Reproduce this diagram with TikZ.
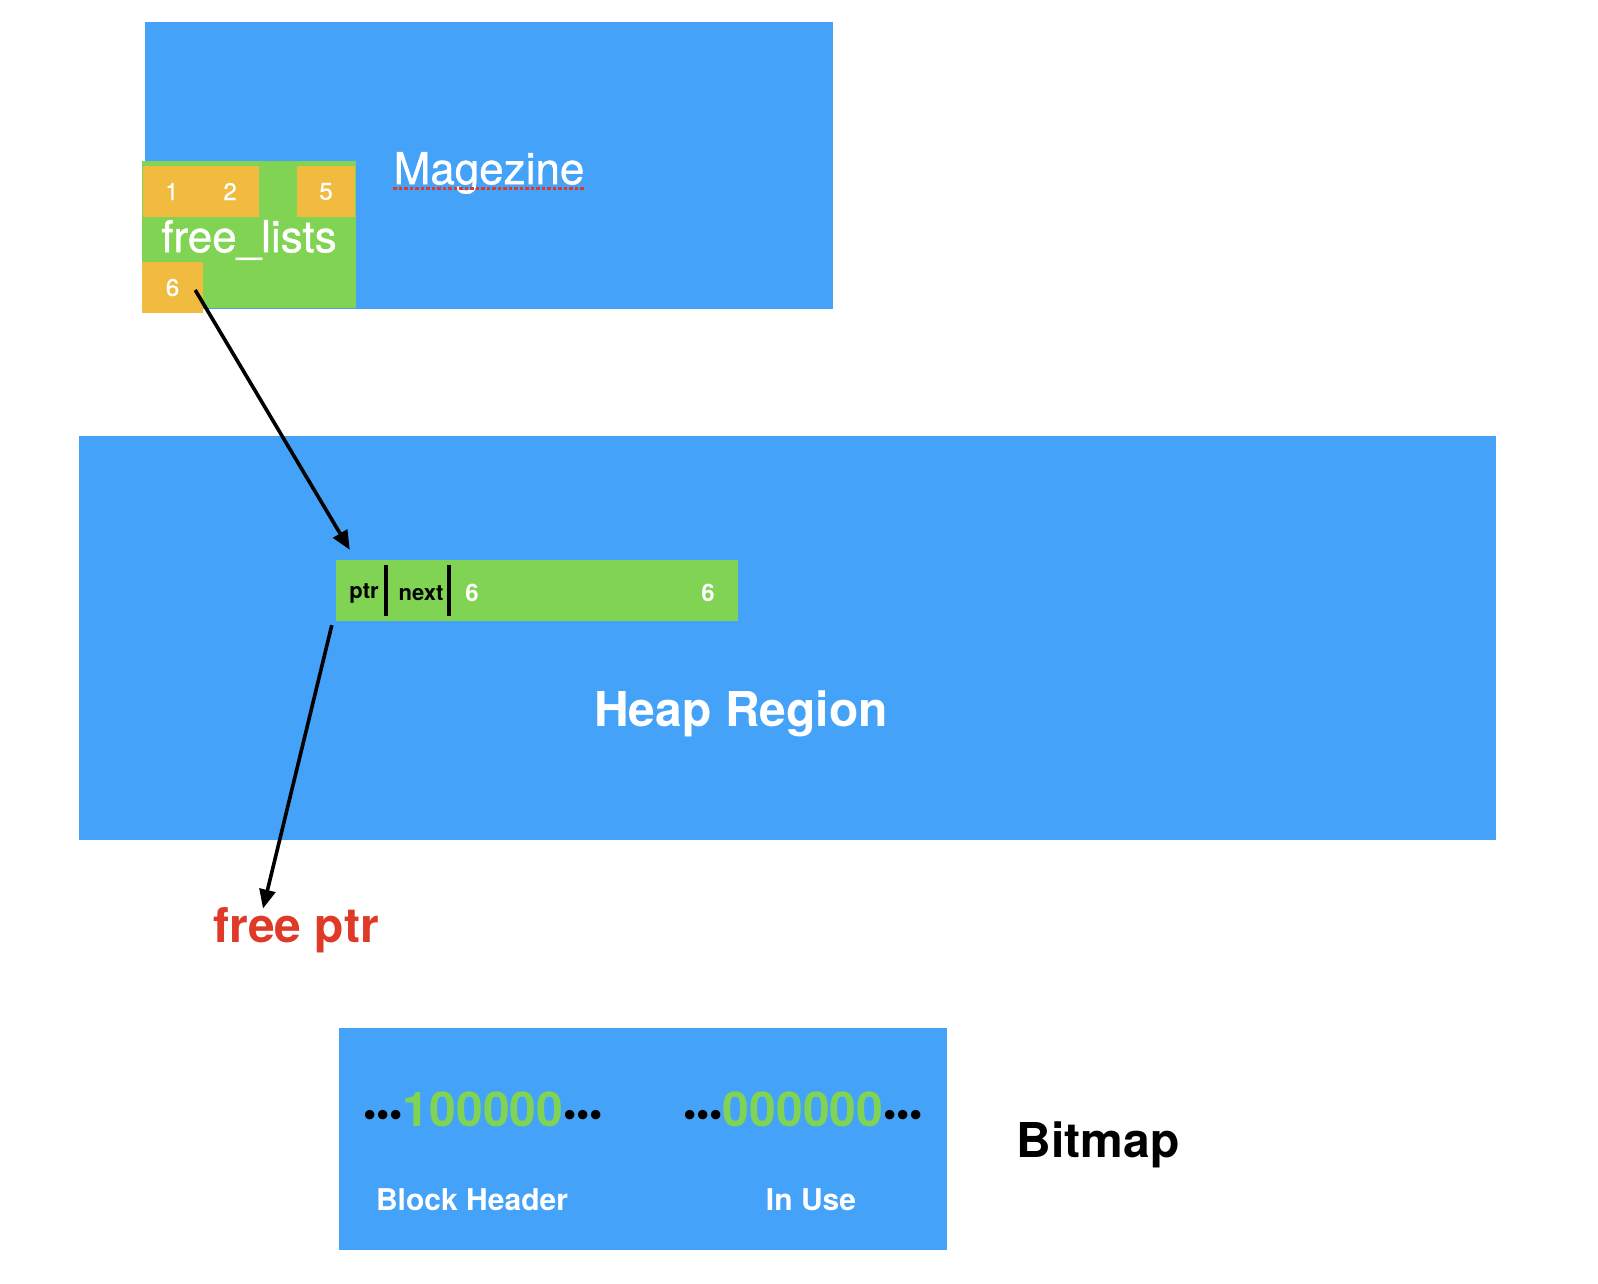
\documentclass[tikz,border=0pt]{standalone}
\usepackage{fontspec}
\setmainfont{TeX Gyre Heros}
\newfontfamily\medfont[FakeBold=0.8]{TeX Gyre Heros}
\usepackage{xcolor}
\usetikzlibrary{arrows.meta}
\definecolor{kblue}{HTML}{44A2F8}
\definecolor{kgreen}{HTML}{81D453}
\definecolor{korange}{HTML}{F0BB3F}
\definecolor{kred}{HTML}{DE3A27}
\newcommand{\bmdots}{{\color{black}\fontsize{38}{38}\selectfont\textbullet\textbullet\textbullet}}
\tikzset{
  region/.style={rectangle, fill=kblue, inner sep=0pt},
  gbox/.style={rectangle, fill=kgreen, inner sep=0pt},
  obox/.style={rectangle, fill=korange, inner sep=0pt, text=white, font=\fontsize{24}{24}\medfont},
  wlbl/.style={text=white, inner sep=0pt},
  blbl/.style={text=black, inner sep=0pt, font=\fontsize{22}{22}\selectfont\bfseries},
  nlbl/.style={text=white, inner sep=0pt, font=\fontsize{24}{24}\selectfont\bfseries},
  bits/.style={inner sep=0pt, text=kgreen, font=\fontsize{48}{48}\selectfont\bfseries},
  ptrarr/.style={draw=black, line width=3.6pt, -{Triangle[length=19pt,width=16pt]}},
  divider/.style={draw=black, line width=3.5pt},
  big/.style={inner sep=0pt, font=\fontsize{48}{48}\selectfont\bfseries}
}
\begin{document}
\begin{tikzpicture}[x=1pt, y=-1pt]
  \useasboundingbox (0,0) rectangle (1598,1284);
  % magazine
  \node[region, minimum width=688pt, minimum height=287pt] (mag) at (489,165.5) {};
  \node[wlbl, font=\fontsize{44}{44}\medfont] (magt) at (489,173) {Magezine};
  \draw[kred, line width=3pt, dash pattern=on 3.5pt off 2pt]
    ([yshift=-4pt]magt.base west) -- ([yshift=-4pt]magt.base east);
  \node[gbox, minimum width=214pt, minimum height=147pt] (flist) at (249,234.5) {};
  \node[obox, minimum width=116pt, minimum height=51pt] (ob12) at (201,191.5) {1\hspace{45pt}2};
  \node[obox, minimum width=58pt, minimum height=51pt] (ob5) at (326,191.5) {5};
  \node[obox, minimum width=61pt, minimum height=51pt] (ob6) at (172.5,287.5) {6};
  \node[wlbl, font=\fontsize{44}{44}\medfont] (flt) at (249,240) {free\_lists};
  % heap region
  \node[region, minimum width=1417pt, minimum height=404pt] (heap) at (787.5,638) {};
  \node[gbox, minimum width=402pt, minimum height=61pt] (blk) at (537,590.5) {};
  \draw[divider] (386,565) -- (386,616);
  \draw[divider] (449,565) -- (449,616);
  \node[blbl] (ptr) at (364,593) {ptr};
  \node[blbl] (nxt) at (421,593) {next};
  \node[nlbl] (szl) at (472,593) {6};
  \node[nlbl] (szr) at (708,593) {6};
  \node[big, text=white] (heapt) at (741,714) {Heap Region};
  \node[big, text=kred] (fp) at (296,930) {free ptr};
  \draw[ptrarr] ([xshift=-8pt,yshift=-2.5pt]ob6.east) -- ([xshift=14pt,yshift=10pt]blk.north west);
  \draw[ptrarr] ([xshift=-4pt,yshift=-4pt]blk.south west) -- ([xshift=-33pt,yshift=-1.5pt]fp.north);
  % bitmap
  \node[region, minimum width=608pt, minimum height=222pt] (bmap) at (643,1139) {};
  \node[bits] (hdrbits) at (483,1109) {\bmdots100000\bmdots};
  \node[bits] (usebits) at (803,1109) {\bmdots000000\bmdots};
  \node[wlbl, font=\fontsize{30}{30}\selectfont\bfseries] (hdrt) at (472,1200) {Block Header};
  \node[wlbl, font=\fontsize{30}{30}\selectfont\bfseries] (uset) at (811,1200) {In Use};
  \node[big, text=black] (bmt) at (1098,1145) {Bitmap};
\end{tikzpicture}
\end{document}
